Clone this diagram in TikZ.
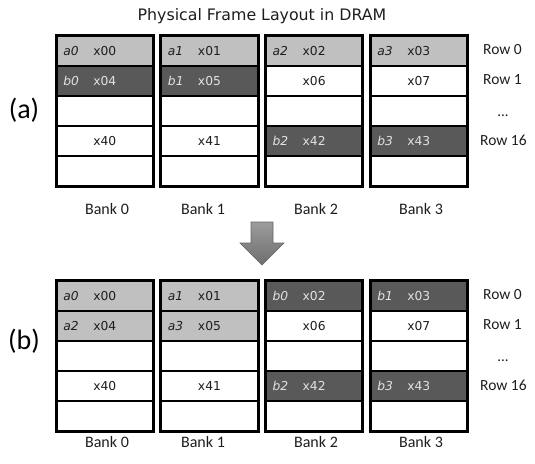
\documentclass[tikz,border=0pt]{standalone}
\usepackage{fontspec}
\setmainfont{DejaVu Sans}
\newfontfamily\carl{Carlito}
\definecolor{lightcell}{HTML}{C0C0C0}
\definecolor{darkcell}{HTML}{595959}
\definecolor{darktext}{HTML}{E2E2E2}
\definecolor{plaintext}{HTML}{1E1E1E}
\definecolor{arrowtop}{HTML}{9C9C9C}
\definecolor{arrowbot}{HTML}{6E6E6E}
\definecolor{arrowedge}{HTML}{666666}
\newcommand\celltext[2]{\makebox[96pt]{\hspace{6.5pt}\rlap{\itshape #1}\hfill #2\hfill\hspace{6.5pt}}}
\begin{document}
\begin{tikzpicture}[x=1pt,y=-1pt,
  cellbase/.style={draw=black, line width=1.5pt, minimum width=96pt, minimum height=30pt,
    inner sep=0pt, anchor=north west, text=plaintext, font=\fontsize{12.3}{14}\selectfont},
  wcell/.style={cellbase, fill=white},
  lcell/.style={cellbase, fill=lightcell},
  dcell/.style={cellbase, fill=darkcell, text=darktext},
  bankframe/.style={draw=black, line width=2.6pt},
  banklab/.style={font=\carl\fontsize{16}{18}\selectfont, text=plaintext, inner sep=0pt},
  rowlab/.style={font=\carl\fontsize{15.5}{17}\selectfont, text=plaintext, inner sep=0pt, anchor=west},
  panellab/.style={font=\carl\fontsize{28}{32}\selectfont, text=black, inner sep=0pt},
  titlelab/.style={font=\fontsize{15.8}{18}\selectfont, text=plaintext, inner sep=0pt}
]
\useasboundingbox (0,0) rectangle (535,463);

\node[titlelab] (title) at (262,16) {Physical Frame Layout in DRAM};

% cells: panel/bank/row/style/tag/label
\foreach \p/\b/\r/\sty/\tg/\lab in {
  a/0/0/lcell/a0/x00, a/0/1/dcell/b0/x04, a/0/2/wcell//, a/0/3/wcell//x40, a/0/4/wcell//,
  a/1/0/lcell/a1/x01, a/1/1/dcell/b1/x05, a/1/2/wcell//, a/1/3/wcell//x41, a/1/4/wcell//,
  a/2/0/lcell/a2/x02, a/2/1/wcell//x06, a/2/2/wcell//, a/2/3/dcell/b2/x42, a/2/4/wcell//,
  a/3/0/lcell/a3/x03, a/3/1/wcell//x07, a/3/2/wcell//, a/3/3/dcell/b3/x43, a/3/4/wcell//,
  b/0/0/lcell/a0/x00, b/0/1/lcell/a2/x04, b/0/2/wcell//, b/0/3/wcell//x40, b/0/4/wcell//,
  b/1/0/lcell/a1/x01, b/1/1/lcell/a3/x05, b/1/2/wcell//, b/1/3/wcell//x41, b/1/4/wcell//,
  b/2/0/dcell/b0/x02, b/2/1/wcell//x06, b/2/2/wcell//, b/2/3/dcell/b2/x42, b/2/4/wcell//,
  b/3/0/dcell/b1/x03, b/3/1/wcell//x07, b/3/2/wcell//, b/3/3/dcell/b3/x43, b/3/4/wcell//}
{
  \if\p a\def\ptop{35}\else\def\ptop{280}\fi
  \node[\sty] (c\p\b\r) at ({56+104.7*\b},{\ptop+30*\r}) {\celltext{\tg}{\lab}};
}

% bank frames and labels
\foreach \p/\ly in {a/209, b/442}{
  \foreach \b/\lx in {0/107, 1/203, 2/316, 3/421}{
    \draw[bankframe] (c\p\b0.north west) rectangle (c\p\b4.south east);
    \node[banklab] (bank\p\b) at (\lx,\ly) {Bank \b};
  }
}

% row labels
\foreach \p/\off in {a/0, b/245}{
  \node[rowlab] (row0\p) at (483,{50+\off}) {Row 0};
  \node[rowlab] (row1\p) at (483,{80+\off}) {Row 1};
  \node[font=\carl\fontsize{15}{17}\selectfont, text=plaintext, inner sep=0pt, anchor=base] (dots\p) at (503,{116+\off}) {...};
  \node[rowlab] (row16\p) at (480,{140+\off}) {Row 16};
}

% panel labels
\node[panellab] (pa) at (24,110) {(a)};
\node[panellab] (pb) at (24,341) {(b)};

% transition arrow
\draw[draw=arrowedge, line width=0.6pt, top color=arrowtop, bottom color=arrowbot]
  (251,222) -- (273,222) -- (273,243) -- (284,243) -- (262,265) -- (240,243) -- (251,243) -- cycle;
\end{tikzpicture}
\end{document}
